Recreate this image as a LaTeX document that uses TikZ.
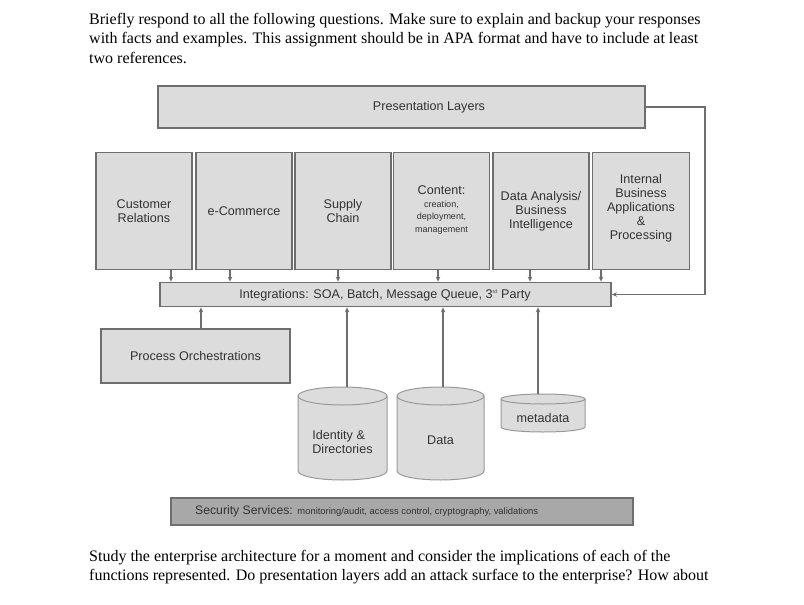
\documentclass[tikz,border=0pt]{standalone}
\usepackage{fontspec}
\setmainfont{Liberation Serif}
\newfontfamily\diag{Liberation Sans}
\usetikzlibrary{arrows.meta}
\definecolor{boxfill}{RGB}{220,220,220}
\definecolor{boxline}{RGB}{110,110,110}
\definecolor{secfill}{RGB}{168,168,168}
\definecolor{dtext}{RGB}{50,50,50}
\tikzset{
  body/.style={anchor=base west,inner sep=0pt,font=\fontsize{16}{19.5}\selectfont,text=black},
  blk/.style={draw=boxline,line width=1.8pt,fill=boxfill,inner sep=0pt,text=dtext},
  lbl/.style={inner sep=0pt,text=dtext,align=center,font=\diag\fontsize{12.6}{14}\selectfont},
  conn/.style={draw=boxline,line width=1.5pt,-{Stealth[length=5pt,width=4.5pt]}},
  cyl/.style={draw=boxline!70,line width=1pt,fill=boxfill},
}
\newcommand\mkcyl[5]{% left right topcenter bottomcenter ry
  \pgfmathsetmacro\rxx{(#2-#1)/2}
  \filldraw[cyl] (#1,-#3) -- (#1,-#4) arc[start angle=180,end angle=360,x radius=\rxx pt,y radius=#5pt] -- (#2,-#3) arc[start angle=0,end angle=180,x radius=\rxx pt,y radius=#5pt] -- cycle;
  \draw[cyl,fill=none] (#1,-#3) arc[start angle=180,end angle=360,x radius=\rxx pt,y radius=#5pt];
}
\begin{document}
\begin{tikzpicture}[x=1pt,y=1pt]
\useasboundingbox[fill=white] (0,0) rectangle (804,-605);
% body text
\node[body] (t1) at (89,-24) {Briefly respond to all the following questions. Make sure to explain and backup your responses};
\node[body] (t2) at (89,-43.5) {with facts and examples. This assignment should be in APA format and have to include at least};
\node[body] (t3) at (89,-63) {two references.};
\node[body] (t4) at (89,-561) {Study the enterprise architecture for a moment and consider the implications of each of the};
\node[body] (t5) at (89,-580.5) {functions represented. Do presentation layers add an attack surface to the enterprise? How about};
% presentation
\node[blk,minimum width=487pt,minimum height=42pt] (pres) at (401.5,-107) {};
\node[lbl] at (429,-107) {Presentation Layers};
% six boxes
\node[blk,minimum width=96pt,minimum height=117pt] (b1) at (144,-211) {};
\node[blk,minimum width=96pt,minimum height=117pt] (b2) at (244,-211) {};
\node[blk,minimum width=96pt,minimum height=117pt] (b3) at (343,-211) {};
\node[blk,minimum width=96pt,minimum height=117pt] (b4) at (441.5,-211) {};
\node[blk,minimum width=96pt,minimum height=117pt] (b5) at (541,-211) {};
\node[blk,minimum width=97pt,minimum height=117pt] (b6) at (641,-211) {};
\node[lbl] at (144,-211) {Customer\\Relations};
\node[lbl] at (244,-211) {e-Commerce};
\node[lbl] at (343,-211) {Supply\\Chain};
\node[lbl] at (441.5,-210) {Content:\\[-1pt]{\fontsize{9}{12.5}\selectfont creation,}\\[-1.5pt]{\fontsize{9}{12.5}\selectfont deployment,}\\[-1.5pt]{\fontsize{9}{12.5}\selectfont management}};
\node[lbl] at (541,-211) {Data Analysis/\\Business\\Intelligence};
\node[lbl] at (641,-208.5) {Internal\\Business\\Applications\\\&\\Processing};
% integrations
\node[blk,minimum width=451pt,minimum height=24pt] (integ) at (385.5,-294.5) {};
\node[lbl] at (385,-295) {Integrations: SOA, Batch, Message Queue, 3\textsuperscript{\fontsize{5}{5}\selectfont rd} Party};
% process orchestrations
\node[blk,minimum width=189pt,minimum height=54pt] (proc) at (195.5,-356) {};
\node[lbl] at (195.5,-356) {Process Orchestrations};
% cylinders
\mkcyl{298}{387}{396}{471}{9}
\mkcyl{397}{484}{396}{471}{9}
\mkcyl{501}{585}{399}{427}{5}
\coordinate (idtop) at (347,-387);
\coordinate (datop) at (443,-387);
\coordinate (metop) at (538,-394);
\node[lbl,align=left] (idn) at (342.5,-442) {Identity \&\\Directories};
\node[lbl] (dan) at (440.5,-440) {Data};
\node[lbl] (men) at (543,-418) {metadata};
% security
\node[blk,fill=secfill,minimum width=462pt,minimum height=27pt] (sec) at (402,-511.5) {};
\node[lbl,anchor=west] at (195,-511.5) {{\fontsize{12.2}{13}\selectfont Security Services:} {\fontsize{9.4}{11}\selectfont monitoring/audit, access control, cryptography, validations}};
% connectors
\foreach \x/\b in {171/b1,230/b2,338/b3,438/b4,530/b5,601/b6}
  \draw[conn] (\b.south -| \x,0) -- (integ.north -| \x,0);
\draw[conn] (proc.north -| 201,0) -- (integ.south -| 201,0);
\draw[conn] (idtop) -- (integ.south -| idtop);
\draw[conn] (datop) -- (integ.south -| datop);
\draw[conn] (metop) -- (integ.south -| metop);
\coordinate (rc) at (705,-107);
\draw[conn] (pres.east) -- (rc) -- (rc |- integ.east) -- (integ.east);
\end{tikzpicture}
\end{document}
